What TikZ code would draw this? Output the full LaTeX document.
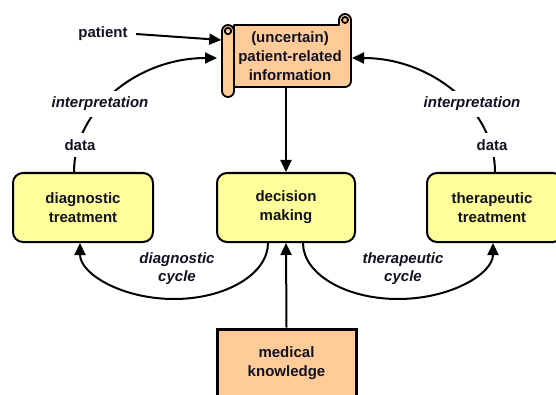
\documentclass[tikz,border=0pt]{standalone}
\usepackage{fontspec}
\setmainfont{Liberation Sans}
\usetikzlibrary{arrows.meta}
\definecolor{boxyellow}{HTML}{FFFF99}
\definecolor{scrollorange}{HTML}{FFCC99}
\definecolor{txt}{HTML}{111122}
\begin{document}
\begin{tikzpicture}[x=1pt,y=1pt,
  font=\fontsize{15}{19}\selectfont\bfseries, text=txt,
  every node/.style={align=center},
  ybox/.style={draw=black, line width=2pt, fill=boxyellow, rounded corners=10pt, inner sep=0pt},
  obox/.style={draw=black, line width=3pt, fill=scrollorange, inner sep=0pt},
  scrollpart/.style={draw=black, line width=1.8pt, fill=scrollorange, line join=round},
  conn/.style={line width=2pt, -{Triangle[length=12pt,width=11pt]}},
  lbl/.style={fill=white, inner xsep=3pt, inner ysep=6pt, font=\fontsize{15}{19}\selectfont\bfseries\itshape},
  dlbl/.style={fill=white, inner xsep=3pt, inner ysep=6pt}
]
\useasboundingbox (0,0) rectangle (556,394);

% scroll
\filldraw[scrollpart] (234,307) -- (234,369) -- (339,369) -- (339,374)
   arc[start angle=180,end angle=0,radius=6] -- (351,313)
   arc[start angle=0,end angle=-90,radius=6] -- cycle;
\filldraw[scrollpart] (345,374) circle[radius=3];
\filldraw[scrollpart, rounded corners=6pt] (222,297) rectangle (234,369);
\filldraw[scrollpart] (228,363) circle[radius=3.2];
\node[inner sep=0pt, minimum width=129pt, minimum height=62pt] (scroll) at (290,338)
  {(uncertain)\\patient-related\\information};

% boxes
\node[ybox, minimum width=140pt, minimum height=69pt] (diag) at (83,186.5) {diagnostic\\treatment};
\node[ybox, minimum width=138pt, minimum height=69pt] (dec) at (286,186.5) {decision\\making};
\node[ybox, minimum width=136pt, minimum height=69pt] (ther) at (495,186.5) {\hspace*{-6pt}therapeutic\\\hspace*{-6pt}treatment};
\node[obox, minimum width=139pt, minimum height=69pt] (med) at (286.5,30.5) {medical\\knowledge};

% patient
\node (patient) at (103,360) {patient};
\draw[conn] (patient.east) ++(5,0) coordinate (pstart) -- ([xshift=-4pt,yshift=16pt]scroll.west);

% interpretation arcs
\draw[conn] ([xshift=-9pt]diag.north) arc[start angle=180,end angle=90,x radius=143,y radius=114];
\draw[conn] ([xshift=0pt]ther.north) arc[start angle=0,end angle=90,x radius=143,y radius=114];
\node[lbl] (intl) at (100,290) {interpretation};
\node[dlbl] (datal) at (80,249) {data};
\node[lbl] (intr) at (472,290) {interpretation};
\node[dlbl] (datar) at (492,249) {data};

% scroll to decision
\draw[conn] (dec.north |- scroll.south) -- (dec.north);
% medical to decision
\draw[conn] (med.north) -- (dec.south);

% cycles
\draw[conn] ([xshift=-18pt]dec.south) arc[start angle=0,end angle=-180,x radius=94,y radius=56];
\draw[conn] ([xshift=17pt]dec.south) arc[start angle=180,end angle=360,x radius=95,y radius=56];
\node[font=\fontsize{15}{18}\selectfont\bfseries\itshape] (dcyc) at (177,125) {diagnostic\\cycle};
\node[font=\fontsize{15}{18}\selectfont\bfseries\itshape] (tcyc) at (403,125) {therapeutic\\cycle};
\end{tikzpicture}
\end{document}
